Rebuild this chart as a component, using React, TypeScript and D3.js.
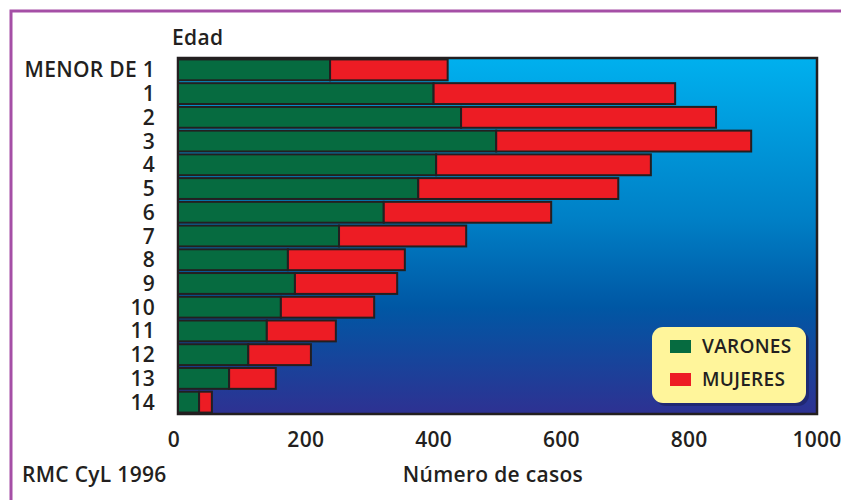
import React from "react";
import * as d3 from "d3";

// Casos por edad y sexo
const edades = ["MENOR DE 1", "1", "2", "3", "4", "5", "6", "7", "8", "9", "10", "11", "12", "13", "14"];
const varones = [238, 400, 443, 498, 404, 376, 322, 252, 172, 183, 161, 139, 110, 80, 33];
const mujeres = [184, 378, 399, 399, 336, 313, 262, 199, 183, 160, 146, 108, 98, 73, 20];
const ticks = [0, 200, 400, 600, 800, 1000];
const series = [
  { key: "varones", label: "VARONES", color: "#066b40" },
  { key: "mujeres", label: "MUJERES", color: "#ed1c24" },
];

const W = 841;
const H = 500;
const plot = { left: 178, right: 817, top: 58, bottom: 414 };
const FONT = "'Open Sans', 'DejaVu Sans', sans-serif";
const INK = "#231f20";
const FS = 21;

export default function App() {
  const x = d3.scaleLinear().domain([0, 1000]).range([plot.left, plot.right]);
  const y = d3
    .scaleBand<string>()
    .domain(edades)
    .range([plot.top, plot.bottom])
    .paddingInner(0.12)
    .paddingOuter(0.06);

  const rows = edades.map((e, i) => ({ edad: e, varones: varones[i], mujeres: mujeres[i] }));
  const stacked = d3.stack<any>().keys(series.map((s) => s.key))(rows);

  const label = {
    fontFamily: FONT,
    fontWeight: 600,
    fontSize: FS,
    fill: INK,
    letterSpacing: 0.3,
  } as const;

  return (
    <svg
      width={W}
      height={H}
      style={{ position: "absolute", left: 0, top: 0, background: "#fff" }}
    >
      <defs>
        <linearGradient id="fondo" x1="0" y1="0" x2="0" y2="1">
          <stop offset="0%" stopColor="#00b0ee" />
          <stop offset="45%" stopColor="#0080c6" />
          <stop offset="70%" stopColor="#0057a4" />
          <stop offset="100%" stopColor="#2e3192" />
        </linearGradient>
      </defs>

      {/* marco exterior */}
      <path d={`M11,${H} V11 H${W}`} fill="none" stroke="#a54fa6" strokeWidth={3} />

      {/* área del gráfico */}
      <rect
        x={plot.left}
        y={plot.top}
        width={plot.right - plot.left}
        height={plot.bottom - plot.top}
        fill="url(#fondo)"
        stroke={INK}
        strokeWidth={2.5}
      />

      {/* barras apiladas */}
      {stacked.map((layer, si) => (
        <g key={layer.key} fill={series[si].color} stroke={INK} strokeWidth={2}>
          {layer.map((d, i) => (
            <rect
              key={i}
              x={x(d[0])}
              y={y(edades[i])!}
              width={x(d[1]) - x(d[0])}
              height={y.bandwidth()}
            />
          ))}
        </g>
      ))}

      {/* etiquetas de edad */}
      <text x={172} y={45} {...label}>
        Edad
      </text>
      {edades.map((e) => (
        <text
          key={e}
          x={155}
          y={y(e)! + y.bandwidth() / 2}
          dy="0.36em"
          textAnchor="end"
          {...label}
        >
          {e}
        </text>
      ))}

      {/* eje x */}
      {ticks.map((t) => (
        <text key={t} x={x(t) - (t === 0 ? 4 : 0)} y={447} textAnchor="middle" {...label}>
          {t}
        </text>
      ))}
      <text x={493} y={482} textAnchor="middle" {...label}>
        Número de casos
      </text>
      <text x={22} y={482} {...label}>
        RMC CyL 1996
      </text>

      {/* leyenda */}
      <g>
        <rect x={655} y={330} width={154} height={76} rx={11} fill="#1a1f5e" opacity={0.6} />
        <rect x={652} y={327} width={154} height={76} rx={11} fill="#fff59b" />
        {series.map((s, i) => (
          <g key={s.key}>
            <rect x={670} y={340 + i * 33} width={21} height={13} fill={s.color} />
            <text
              x={702}
              y={353 + i * 33}
              fontFamily={FONT}
              fontWeight={600}
              fontSize={19}
              letterSpacing={0.3}
              fill={INK}
            >
              {s.label}
            </text>
          </g>
        ))}
      </g>
    </svg>
  );
}
